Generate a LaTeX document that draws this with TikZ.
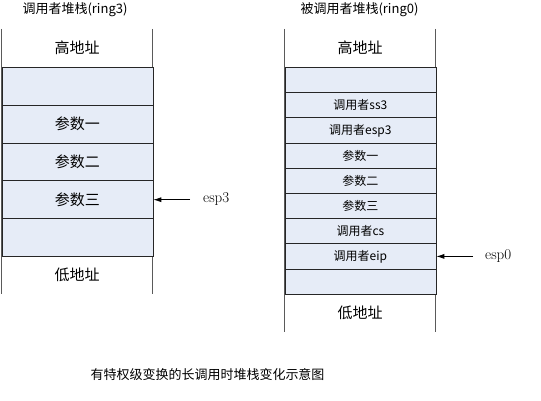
\documentclass[tikz,border=0pt]{standalone}
\usepackage{fontspec}
\newfontfamily\cjk{Noto Sans CJK SC}
\usetikzlibrary{arrows.meta}
\definecolor{cellblue}{RGB}{230,236,247}
\definecolor{sideline}{RGB}{90,90,90}
\begin{document}
\begin{tikzpicture}[x=1pt,y=-1pt,
  bigcell/.style={draw=black!85, fill=cellblue, line width=0.8pt, inner sep=0pt,
    minimum width=151pt, minimum height=37.8pt, anchor=north west,
    font=\cjk\fontsize{15}{17}\selectfont},
  smallcell/.style={draw=black!85, fill=cellblue, line width=0.8pt, inner sep=0pt,
    minimum width=151pt, minimum height=25.2pt, anchor=north west,
    font=\cjk\fontsize{12}{14}\selectfont},
  endcell/.style={inner sep=0pt, font=\cjk\fontsize{15}{17}\selectfont},
  titletext/.style={inner sep=0pt, font=\cjk\fontsize{13}{15}\selectfont},
  side/.style={draw=sideline, line width=0.8pt},
  ptr/.style={-{Latex[length=8pt,width=5pt]}, line width=0.8pt},
  ptrlabel/.style={inner sep=0pt, font=\fontsize{15}{17}\selectfont},
]
\useasboundingbox (0,0) rectangle (541,401);

% titles
\node[titletext] (t1) at (75,10) {调用者堆栈(ring3)};
\node[titletext] (t2) at (359.5,10) {被调用者堆栈(ring0)};

% left stack
\draw[side] (1.5,29) -- (1.5,294);
\draw[side] (152.5,29) -- (152.5,294);
\node[endcell] (lhigh) at (77,48) {高地址};
\node[bigcell] (l1) at (1.5,67) {};
\node[bigcell] (l2) at (1.5,104.8) {参数一};
\node[bigcell] (l3) at (1.5,142.6) {参数二};
\node[bigcell] (l4) at (1.5,180.4) {参数三};
\node[bigcell] (l5) at (1.5,218.2) {};
\node[endcell] (llow) at (77,275) {低地址};

% right stack
\draw[side] (284.5,29) -- (284.5,332);
\draw[side] (435.5,29) -- (435.5,332);
\node[endcell] (rhigh) at (360,48) {高地址};
\node[smallcell] (r1) at (284.5,67) {};
\node[smallcell] (r2) at (284.5,92.2) {调用者ss3};
\node[smallcell] (r3) at (284.5,117.4) {调用者esp3};
\node[smallcell] (r4) at (284.5,142.6) {参数一};
\node[smallcell] (r5) at (284.5,167.8) {参数二};
\node[smallcell] (r6) at (284.5,193.0) {参数三};
\node[smallcell] (r7) at (284.5,218.2) {调用者cs};
\node[smallcell] (r8) at (284.5,243.4) {调用者eip};
\node[smallcell] (r9) at (284.5,268.6) {};
\node[endcell] (rlow) at (360,313) {低地址};

% pointers
\node[ptrlabel, anchor=west] (esp3) at (203,199.3) {esp3};
\draw[ptr] ([xshift=-13pt]esp3.west |- l4.east) -- (l4.east);
\node[ptrlabel, anchor=west] (esp0) at (485,256) {esp0};
\draw[ptr] ([xshift=-12pt]esp0.west |- r8.east) -- (r8.east);

% caption
\node[titletext] (cap) at (207.5,375) {有特权级变换的长调用时堆栈变化示意图};
\end{tikzpicture}
\end{document}
